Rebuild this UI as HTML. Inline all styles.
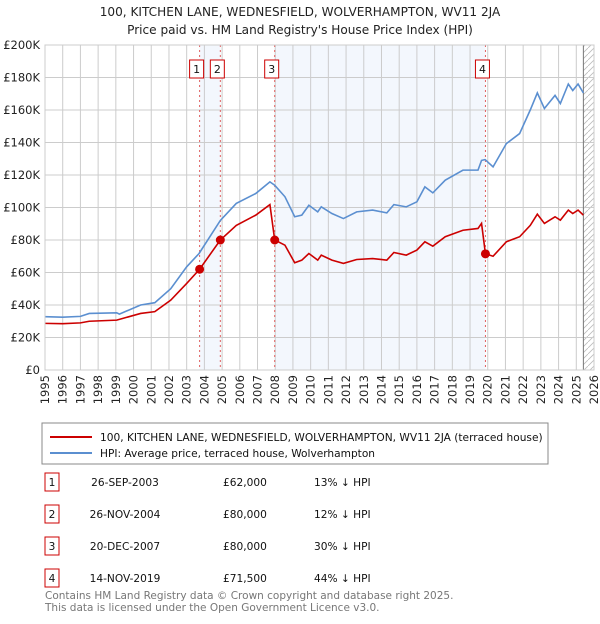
<!DOCTYPE html>
<html><head><meta charset="utf-8"><style>
body{margin:0;background:#fff;font-family:"DejaVu Sans","Liberation Sans",sans-serif;}
svg text{font-family:"DejaVu Sans","Liberation Sans",sans-serif;}
</style></head><body>
<svg id="chart" width="600" height="620" xmlns="http://www.w3.org/2000/svg">
<defs><pattern id="hatch" width="6" height="6" patternUnits="userSpaceOnUse"><path d="M0,6 L6,0" stroke="#bbb" stroke-width="0.8"/></pattern></defs>
<text x="300" y="16" text-anchor="middle" font-size="12.1" fill="#222">100, KITCHEN LANE, WEDNESFIELD, WOLVERHAMPTON, WV11 2JA</text>
<text x="300" y="34" text-anchor="middle" font-size="12.1" fill="#222">Price paid vs. HM Land Registry's House Price Index (HPI)</text>
<g id="plot"></g>
<rect x="42" y="423" width="506" height="41" fill="#fff" stroke="#888"/>
<line x1="50" y1="437" x2="92" y2="437" stroke="#cc0000" stroke-width="2"/>
<text x="100" y="441" font-size="10.6" fill="#111">100, KITCHEN LANE, WEDNESFIELD, WOLVERHAMPTON, WV11 2JA (terraced house)</text>
<line x1="50" y1="453" x2="92" y2="453" stroke="#5b8fd0" stroke-width="2"/>
<text x="100" y="457" font-size="10.6" fill="#111">HPI: Average price, terraced house, Wolverhampton</text>
<g id="table"></g>
<text x="45" y="599" font-size="10.5" fill="#777">Contains HM Land Registry data © Crown copyright and database right 2025.</text>
<text x="45" y="611" font-size="10.5" fill="#777">This data is licensed under the Open Government Licence v3.0.</text>
</svg>
<script>
const hpiYears=[1995,1996,1997,1997.5,1999.05,1999.2,2000.4,2001.2,2002.1,2003,2003.7,2004.9,2005.8,2006.9,2007.7,2007.97,2008.55,2009.1,2009.5,2009.9,2010.4,2010.6,2011.2,2011.85,2012.6,2013.5,2014.3,2014.7,2015.4,2016,2016.45,2016.9,2017.6,2018.6,2019.45,2019.65,2019.85,2020.3,2021.05,2021.8,2022.4,2022.8,2023.2,2023.8,2024.1,2024.55,2024.8,2025.1,2025.4];
const hpiValues=[32.8,32.5,33,34.8,35.2,34.4,40,41.4,50,63.5,71.7,92,102.5,108.6,115.8,113.7,106.6,94.3,95.3,101.4,97.3,100.4,96.3,93.2,97.3,98.4,96.7,101.8,100.4,103.5,112.7,109,116.8,123,123,129,129.5,125,139.3,145.5,160,170.5,160.9,169,164,176,172,176,170.5];
const propYears=[1995,1996,1997,1997.5,1999.05,2000.4,2001.2,2002.1,2003,2003.73,2004.9,2005.8,2006.9,2007.7,2007.97,2008.55,2009.1,2009.5,2009.9,2010.4,2010.6,2011.2,2011.85,2012.6,2013.5,2014.3,2014.7,2015.4,2016,2016.45,2016.9,2017.6,2018.6,2019.45,2019.65,2019.87,2020.3,2021.05,2021.8,2022.4,2022.8,2023.2,2023.8,2024.1,2024.55,2024.8,2025.1,2025.4];
const propValues=[28.7,28.5,29,30,30.7,34.8,35.9,43,53.3,62,80,89,95.3,101.8,80,76.8,66,67.6,71.7,67.6,70.7,67.6,65.6,68,68.6,67.6,72.3,70.7,73.8,78.9,76.2,82,86,87.1,90.2,71.5,70,78.9,82,89,95.9,90.2,94.3,92.2,98.4,96.3,98.4,95.3];
const saleLabels=["1","2","3","4"];
const saleYears=[2003.73,2004.9,2007.97,2019.87];
const saleValues=[62,80,80,71.5];
const saleDates=["26-SEP-2003","26-NOV-2004","20-DEC-2007","14-NOV-2019"];
const salePrices=["£62,000","£80,000","£80,000","£71,500"];
const saleDiffs=["13% ↓ HPI","12% ↓ HPI","30% ↓ HPI","44% ↓ HPI"];
const yTicks=[0,20,40,60,80,100,120,140,160,180,200];
const yTickLabels=["£0","£20K","£40K","£60K","£80K","£100K","£120K","£140K","£160K","£180K","£200K"];
const xTicks=[1995,1996,1997,1998,1999,2000,2001,2002,2003,2004,2005,2006,2007,2008,2009,2010,2011,2012,2013,2014,2015,2016,2017,2018,2019,2020,2021,2022,2023,2024,2025,2026];
const X0=45,X1=594,Y0=370,Y1=45;
const xs=y=>X0+(y-1995)/31*(X1-X0);
const ys=v=>Y0-v/200*(Y0-Y1);
const NS="http://www.w3.org/2000/svg";
function mk(parent,tag,attrs){const e=document.createElementNS(NS,tag);for(const k in attrs)e.setAttribute(k,attrs[k]);parent.appendChild(e);return e;}
const g=document.getElementById('plot');
let r;
r=mk(g,'rect',{x:xs(saleYears[0]),y:Y1,width:xs(saleYears[1])-xs(saleYears[0]),height:Y0-Y1,fill:'#eef3fc',opacity:0.7});


r=mk(g,'rect',{x:xs(saleYears[2]),y:Y1,width:xs(saleYears[3])-xs(saleYears[2]),height:Y0-Y1,fill:'#eef3fc',opacity:0.7});


r=mk(g,'rect',{x:xs(2025.4),y:Y1,width:X1-xs(2025.4),height:Y0-Y1,fill:'url(#hatch)'});


yTicks.forEach((t,i)=>{
 const l=mk(g,'line',{x1:X0,x2:X1,y1:ys(t),y2:ys(t),stroke:'#ccc','stroke-width':1});
 
 
 const tx=mk(g,'text',{x:40,y:ys(t)+4,'text-anchor':'end','font-size':11.5,fill:'#222'});tx.textContent=yTickLabels[i];
 
 
});
xTicks.forEach(t=>{
 const l=mk(g,'line',{x1:xs(t),x2:xs(t),y1:Y1,y2:Y0,stroke:'#ccc','stroke-width':1});
 
 
 const x=xs(t)+4;
 const tx=mk(g,'text',{x:x,y:375,'text-anchor':'end','font-size':11.5,fill:'#222',transform:'rotate(-90 '+x+' 375)'});tx.textContent=t;
 
 
});
r=mk(g,'line',{x1:xs(2025.4),x2:xs(2025.4),y1:Y1,y2:Y0,stroke:'#777','stroke-width':1});


saleYears.forEach((y,i)=>{
 const l=mk(g,'line',{x1:xs(y),x2:xs(y),y1:Y1,y2:Y0,stroke:'#e06060','stroke-width':1,'stroke-dasharray':'2,3'});
 
 
 const b=mk(g,'rect',{x:xs(y)-10,y:60,width:14,height:18,fill:'#fff',stroke:'#cc0000','stroke-width':1});
 
 
 const tx=mk(g,'text',{x:xs(y)-3,y:73,'text-anchor':'middle','font-size':11,fill:'#111'});tx.textContent=saleLabels[i];
 
 
});
const hp=mk(g,'polyline',{points:hpiYears.map((y,i)=>xs(y)+','+ys(hpiValues[i])).join(' '),fill:'none',stroke:'#5b8fd0','stroke-width':1.6});


const pp=mk(g,'polyline',{points:propYears.map((y,i)=>xs(y)+','+ys(propValues[i])).join(' '),fill:'none',stroke:'#cc0000','stroke-width':1.6});


saleYears.forEach((y,i)=>{
 const c=mk(g,'circle',{cx:xs(y),cy:ys(saleValues[i]),r:4.5,fill:'#cc0000'});
 
 
});
r=mk(g,'rect',{x:X0,y:Y1,width:X1-X0,height:Y0-Y1,fill:'none',stroke:'#ccc'});


const tb=document.getElementById('table');
saleLabels.forEach((lab,i)=>{
 const cy=482+i*32;
 const b=mk(tb,'rect',{x:45,y:cy-9,width:14,height:18,fill:'#fff',stroke:'#cc0000'});
 
 
 let t=mk(tb,'text',{x:52,y:cy+4,'text-anchor':'middle','font-size':10.6,fill:'#111'});t.textContent=lab;
 
 
 t=mk(tb,'text',{x:125,y:cy+4,'text-anchor':'middle','font-size':10.6,fill:'#111'});t.textContent=saleDates[i];
 
 
 t=mk(tb,'text',{x:223,y:cy+4,'font-size':10.6,fill:'#111'});t.textContent=salePrices[i];
 
 
 t=mk(tb,'text',{x:314,y:cy+4,'font-size':10.6,fill:'#111'});t.textContent=saleDiffs[i];
 
 
});
</script>
</body></html>
